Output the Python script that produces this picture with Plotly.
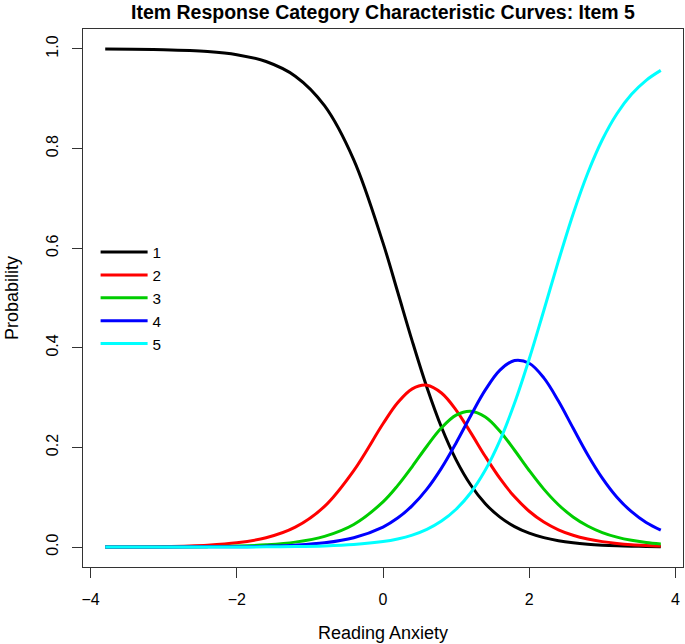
import plotly.graph_objects as go

# Latent trait values (x axis)
theta = [-3.8, -3.0, -2.4, -2.0, -1.6, -1.2, -0.8, -0.4, 0.0, 0.2, 0.4, 0.6, 0.8,
         1.0, 1.2, 1.4, 1.6, 1.8, 2.0, 2.2, 2.4, 2.6, 2.8, 3.0, 3.2, 3.4, 3.6, 3.8]

# Category response probabilities
cat1 = [0.9997, 0.9984, 0.9948, 0.9885, 0.9747, 0.9453, 0.8860, 0.7773, 0.6106, 0.5125,
        0.4134, 0.3208, 0.2405, 0.1751, 0.1246, 0.0871, 0.0601, 0.0411, 0.0279, 0.0189,
        0.0127, 0.0086, 0.0058, 0.0039, 0.0026, 0.0017, 0.0012, 0.0008]
cat2 = [0.0002, 0.0012, 0.0039, 0.0085, 0.0186, 0.0399, 0.0817, 0.1536, 0.2475, 0.2897,
        0.3177, 0.3249, 0.3093, 0.2751, 0.2297, 0.1818, 0.1377, 0.1008, 0.0719, 0.0502,
        0.0347, 0.0237, 0.0161, 0.0109, 0.0074, 0.0049, 0.0033, 0.0022]
cat3 = [0.0001, 0.0003, 0.0009, 0.0020, 0.0045, 0.0099, 0.0215, 0.0454, 0.0907, 0.1233,
        0.1617, 0.2024, 0.2394, 0.2648, 0.2728, 0.2611, 0.2327, 0.1944, 0.1537, 0.1163,
        0.0850, 0.0605, 0.0423, 0.0291, 0.0199, 0.0135, 0.0092, 0.0062]
cat4 = [0.0000, 0.0001, 0.0004, 0.0008, 0.0018, 0.0039, 0.0085, 0.0187, 0.0402, 0.0582,
        0.0831, 0.1163, 0.1586, 0.2091, 0.2638, 0.3155, 0.3553, 0.3746, 0.3690, 0.3396,
        0.2932, 0.2390, 0.1855, 0.1385, 0.1002, 0.0710, 0.0493, 0.0339]
cat5 = [0.0000, 0.0000, 0.0001, 0.0002, 0.0005, 0.0010, 0.0022, 0.0050, 0.0110, 0.0163,
        0.0241, 0.0356, 0.0522, 0.0759, 0.1091, 0.1545, 0.2142, 0.2891, 0.3775, 0.4750,
        0.5744, 0.6682, 0.7503, 0.8176, 0.8699, 0.9088, 0.9370, 0.9569]

series_names = ["1", "2", "3", "4", "5"]
series_values = [cat1, cat2, cat3, cat4, cat5]
series_colors = ["#000000", "#FF0000", "#00CD00", "#0000FF", "#00FFFF"]

x_ticks = [-4, -2, 0, 2, 4]
x_tick_text = ["\u22124", "\u22122", "0", "2", "4"]
y_ticks = [0.0, 0.2, 0.4, 0.6, 0.8, 1.0]
y_tick_text = ["0.0", "0.2", "0.4", "0.6", "0.8", "1.0"]

FONT = "Liberation Sans, Arial, Helvetica, sans-serif"

fig = go.Figure()
for name, vals, col in zip(series_names, series_values, series_colors):
    fig.add_trace(go.Scatter(
        x=theta, y=vals, name=name, mode="lines",
        line=dict(color=col, width=3, shape="spline", smoothing=1.0),
    ))

axis_common = dict(
    showline=True, mirror=True, linecolor="#333333", linewidth=1,
    ticks="outside", ticklen=10, tickwidth=1, tickcolor="#333333",
    showgrid=False, zeroline=False,
    tickfont=dict(family=FONT, size=16, color="#000000"),
)

fig.update_layout(
    width=685, height=644,
    margin=dict(l=83, r=2, t=29, b=77),
    paper_bgcolor="white", plot_bgcolor="white",
    font=dict(family=FONT, color="#000000"),
    xaxis=dict(range=[-4.104, 4.104], tickmode="array", tickvals=x_ticks,
               ticktext=x_tick_text, ticklabelstandoff=8, **axis_common),
    yaxis=dict(range=[-0.04, 1.04], tickmode="array", tickvals=y_ticks,
               ticktext=y_tick_text, tickangle=-90, ticklabelstandoff=8,
               **axis_common),
    showlegend=True,
    legend=dict(x=0.021, y=0.616, xanchor="left", yanchor="top",
                bgcolor="rgba(0,0,0,0)", borderwidth=0, itemwidth=47,
                font=dict(family=FONT, size=15.3, color="#000000"),
                tracegroupgap=0),
    annotations=[
        dict(text="<b>Item Response Category Characteristic Curves: Item 5</b>",
             xref="paper", yref="paper", x=0.5, y=1, yshift=17,
             xanchor="center", yanchor="middle", showarrow=False,
             font=dict(family=FONT, size=19.5, color="#000000")),
        dict(text="Reading Anxiety", xref="paper", yref="paper", x=0.5, y=0,
             yshift=-66, xanchor="center", yanchor="middle", showarrow=False,
             font=dict(family=FONT, size=18, color="#000000")),
        dict(text="Probability", xref="paper", yref="paper", x=0, y=0.5,
             xshift=-71, xanchor="center", yanchor="middle", textangle=-90,
             showarrow=False, font=dict(family=FONT, size=18, color="#000000")),
    ],
)

fig.write_html(
    "out.html",
    config={"displayModeBar": False},
    post_script="document.body.style.margin='0';document.body.style.padding='0';",
)
